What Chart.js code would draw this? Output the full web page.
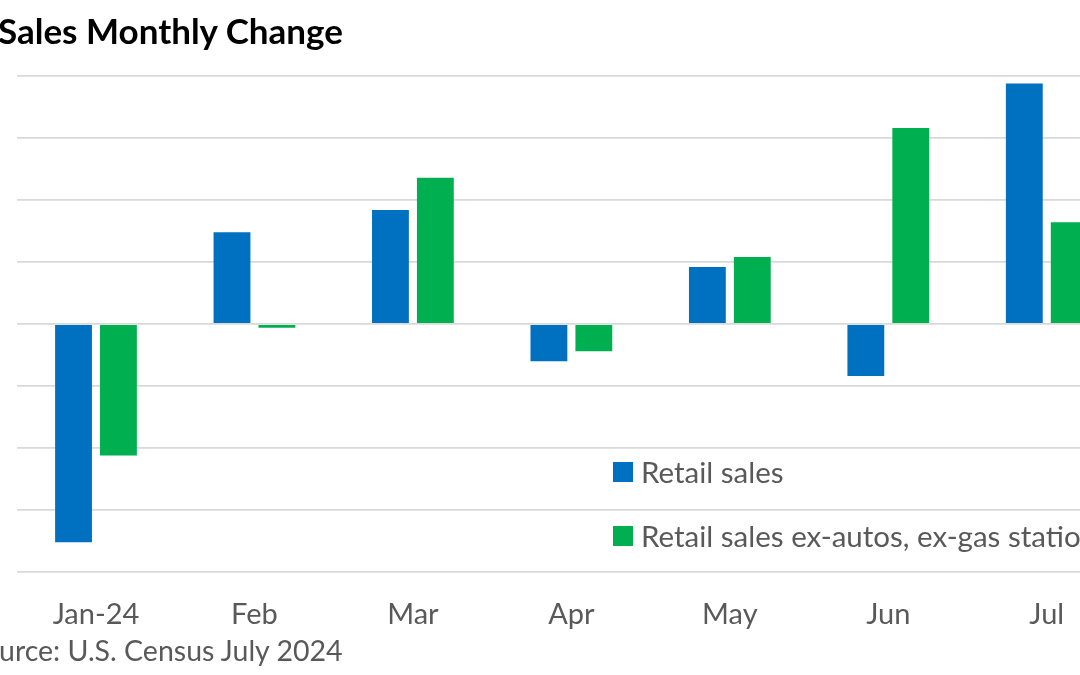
<!DOCTYPE html>
<html>
<head>
<meta charset="utf-8">
<script src="https://cdn.jsdelivr.net/npm/chart.js@4"></script>
<style>
  html, body { margin:0; padding:0; width:1080px; height:675px; overflow:hidden; background:#fff; }
  #wrap { position:absolute; left:0; top:0; width:1080px; height:675px; overflow:hidden; }
  #c { position:absolute; left:-120px; top:0; }
  #title { position:absolute; top:9px; font-family:Lato, sans-serif; font-weight:bold; font-size:35px; color:#000; white-space:nowrap; }
  #source { position:absolute; top:633px; font-family:Lato, sans-serif; font-size:28.5px; color:#595959; white-space:nowrap; }
  #legend { position:absolute; left:613px; top:454px; font-family:Lato, sans-serif; font-size:29.5px; color:#595959; white-space:nowrap; }
  .li { height:64px; display:flex; align-items:flex-start; }
  .sw { width:20px; height:20px; margin-right:8px; margin-top:8px; display:inline-block; }
</style>
</head>
<body>
<div id="wrap">
  <canvas id="c" width="1300" height="675"></canvas>
  <div id="title">Retail Sales Monthly Change</div>
  <div id="source">Source: U.S. Census July 2024</div>
  <div id="legend"></div>
</div>
<script>
const categories = ["Jan-24", "Feb", "Mar", "Apr", "May", "Jun", "Jul"];
const retailSales = [-0.88, 0.37, 0.46, -0.15, 0.23, -0.21, 0.97];
const retailExAutosGas = [-0.53, -0.015, 0.59, -0.11, 0.27, 0.79, 0.41];
const seriesNames = ["Retail sales", "Retail sales ex-autos, ex-gas stations"];
const seriesColors = ["#0070C0", "#00B050"];
const yTicks = [-1.0, -0.75, -0.5, -0.25, 0, 0.25, 0.5, 0.75, 1.0];

const ctx = document.getElementById('c').getContext('2d');
const chart = new Chart(ctx, {
  type: 'bar',
  data: {
    labels: categories,
    datasets: [
      { label: seriesNames[0], data: retailSales, backgroundColor: seriesColors[0], barPercentage: 0.82, categoryPercentage: 0.567 },
      { label: seriesNames[1], data: retailExAutosGas, backgroundColor: seriesColors[1], barPercentage: 0.82, categoryPercentage: 0.567 }
    ]
  },
  options: {
    responsive: false,
    animation: false,
    devicePixelRatio: 1,
    layout: { padding: { top: 76, right: 54, bottom: 0, left: 0 } },
    plugins: { legend: { display: false }, title: { display: false }, tooltip: { enabled: false } },
    scales: {
      x: {
        grid: { display: false, drawTicks: false },
        border: { display: false },
        ticks: { color: '#595959', font: { family: 'Lato', size: 29 }, padding: 25, maxRotation: 0 },
        afterFit: (s) => { s.height = 103; }
      },
      y: {
        min: yTicks[0], max: yTicks[yTicks.length - 1],
        afterBuildTicks: (s) => { s.ticks = yTicks.map(v => ({ value: v })); },
        grid: { color: '#d9d9d9', lineWidth: 1.8, drawTicks: false },
        border: { display: false },
        ticks: { color: '#595959', font: { family: 'Lato', size: 27 }, padding: 36,
                 callback: (v) => v.toFixed(2) + '%' },
        afterFit: (s) => { s.width = 136.75; }
      }
    }
  }
});

// legend from datasets
const leg = document.getElementById('legend');
chart.data.datasets.forEach(ds => {
  const d = document.createElement('div'); d.className = 'li';
  const sw = document.createElement('span'); sw.className = 'sw'; sw.style.background = ds.backgroundColor;
  const t = document.createElement('span'); t.textContent = ds.label;
  d.appendChild(sw); d.appendChild(t); leg.appendChild(d);
});

// position partially cropped title and source
const mc = document.createElement('canvas').getContext('2d');
mc.font = 'bold 35px Lato';
document.getElementById('title').style.left = (-2 - mc.measureText('Retail ').width) + 'px';
mc.font = '28.5px Lato';
document.getElementById('source').style.left = (-1 - mc.measureText('So').width) + 'px';
</script>
</body>
</html>
